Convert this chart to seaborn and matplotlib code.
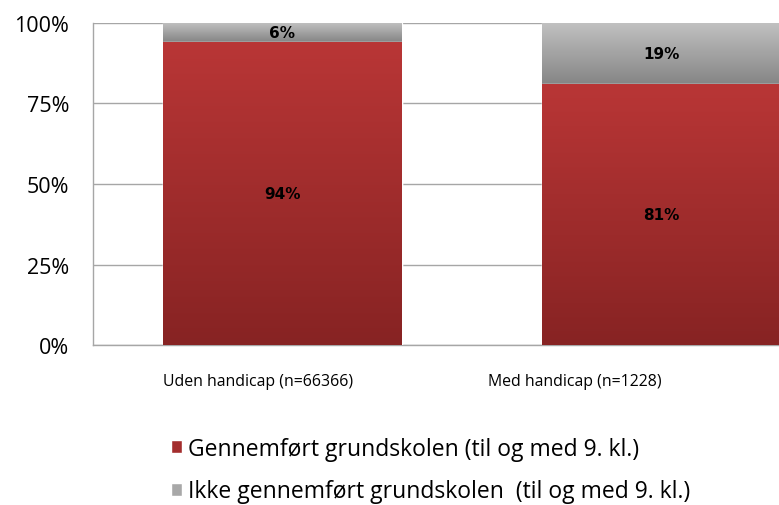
import numpy as np
import pandas as pd
import seaborn as sns
import matplotlib.pyplot as plt
import matplotlib.transforms as mtransforms
from matplotlib.colors import LinearSegmentedColormap
from matplotlib.patches import Patch

groups = ['Uden handicap (n=66366)', 'Med handicap (n=1228)']
completed = [94, 81]
not_completed = [6, 19]
series_labels = ['Gennemført grundskolen (til og med 9. kl.)',
                 'Ikke gennemført grundskolen  (til og med 9. kl.)']

df = pd.DataFrame({'group': groups, 'completed': completed, 'not_completed': not_completed})
df['total'] = df['completed'] + df['not_completed']

sns.set_style('white')
plt.rcParams['font.family'] = ['Open Sans', 'DejaVu Sans']
plt.rcParams['text.color'] = 'black'
plt.rcParams['xtick.color'] = 'black'
plt.rcParams['ytick.color'] = 'black'

red_top, red_bottom = '#b93636', '#872323'
gray_top, gray_bottom = '#c2c2c2', '#858585'
grid_col = '#a6a6a6'

fig = plt.figure(figsize=(7.79, 5.06), dpi=100)
ax = fig.add_axes([93 / 779, 160 / 506, 758 / 779, 322 / 506])

sns.barplot(data=df, x='group', y='total', color=gray_top, width=0.63,
            saturation=1, ax=ax, zorder=2)
sns.barplot(data=df, x='group', y='completed', color=red_top, width=0.63,
            saturation=1, ax=ax, zorder=3)

n = len(df)
gray_bars = ax.patches[:n]
red_bars = ax.patches[n:2 * n]


def gradient(patch, y0, y1, top, bottom, z):
    cmap = LinearSegmentedColormap.from_list('g', [bottom, top])
    grad = np.linspace(0, 1, 256).reshape(-1, 1)
    x0 = patch.get_x()
    im = ax.imshow(grad, cmap=cmap, aspect='auto', origin='lower',
                   extent=(x0, x0 + patch.get_width(), y0, y1), zorder=z)
    im.set_clip_path(patch)


for i, p in enumerate(gray_bars):
    gradient(p, df['completed'][i], df['total'][i], gray_top, gray_bottom, 2.5)
for i, p in enumerate(red_bars):
    gradient(p, 0, df['completed'][i], red_top, red_bottom, 3.5)

# data labels
for i, row in df.iterrows():
    ax.text(i, row['completed'] / 2, f"{row['completed']}%", ha='center', va='center',
            fontsize=11, fontweight='bold', family='DejaVu Sans', color='black', zorder=5)
    ax.text(i, row['completed'] + row['not_completed'] / 2, f"{row['not_completed']}%",
            ha='center', va='center', fontsize=11, fontweight='bold',
            family='DejaVu Sans', color='black', zorder=5)

ax.set_xlim(-0.5, 1.5)
ax.set_ylim(0, 100)
ax.set_yticks([0, 25, 50, 75, 100])
ax.set_yticklabels([f'{v}%' for v in [0, 25, 50, 75, 100]], fontsize=15.5)
ax.yaxis.grid(True, color=grid_col, linewidth=1, zorder=0)
ax.set_axisbelow(True)
ax.set_xlabel('')
ax.set_ylabel('')

for s in ['top', 'right']:
    ax.spines[s].set_visible(False)
for s in ['left', 'bottom']:
    ax.spines[s].set_color(grid_col)
    ax.spines[s].set_linewidth(1)

ax.tick_params(axis='y', direction='out', length=5, color=grid_col, pad=12)
ax.tick_params(axis='x', which='major', length=0, pad=20, labelsize=11.4)
ax.set_xticks([-0.5, 0.5, 1.5], minor=True)
ax.tick_params(axis='x', which='minor', direction='out', length=5, color=grid_col)

# x labels sit left of the bar centres in the original
for lab, dx in zip(ax.get_xticklabels(), [-24, -87]):
    lab.set_transform(lab.get_transform() + mtransforms.ScaledTranslation(dx / 100, 0, fig.dpi_scale_trans))

handles = [Patch(facecolor='#a32d2d'), Patch(facecolor='#a8a8a8')]
fig.legend(handles, series_labels, loc='center left', bbox_to_anchor=(171 / 779, 35 / 506),
           frameon=False, fontsize=16.5, labelspacing=0.82, handlelength=0.5,
           handleheight=0.5, handletextpad=0.25, borderpad=0, borderaxespad=0)

fig.savefig('out.png', dpi=100)
